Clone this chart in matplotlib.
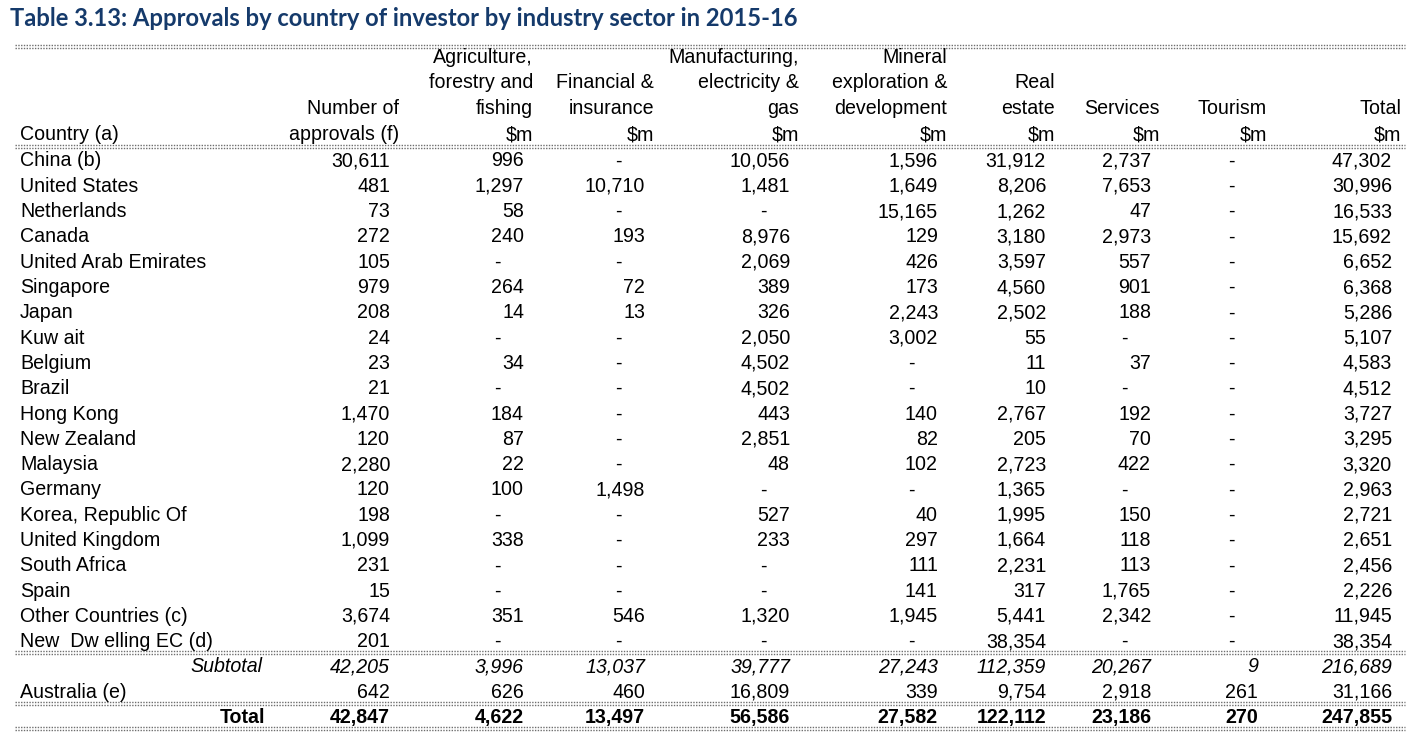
import matplotlib.pyplot as plt

# table content
countries = ["China (b)", "United States", "Netherlands", "Canada",
             "United Arab Emirates", "Singapore", "Japan", "Kuw ait",
             "Belgium", "Brazil", "Hong Kong", "New Zealand", "Malaysia",
             "Germany", "Korea, Republic Of", "United Kingdom",
             "South Africa", "Spain", "Other Countries (c)",
             "New  Dw elling EC (d)"]

approvals = [30611, 481, 73, 272, 105, 979, 208, 24, 23, 21, 1470, 120,
             2280, 120, 198, 1099, 231, 15, 3674, 201]
agriculture = [996, 1297, 58, 240, None, 264, 14, None, 34, None, 184, 87,
               22, 100, None, 338, None, None, 351, None]
financial = [None, 10710, None, 193, None, 72, 13, None, None, None, None,
             None, None, 1498, None, None, None, None, 546, None]
manufacturing = [10056, 1481, None, 8976, 2069, 389, 326, 2050, 4502, 4502,
                 443, 2851, 48, None, 527, 233, None, None, 1320, None]
mineral = [1596, 1649, 15165, 129, 426, 173, 2243, 3002, None, None, 140,
           82, 102, None, 40, 297, 111, 141, 1945, None]
real_estate = [31912, 8206, 1262, 3180, 3597, 4560, 2502, 55, 11, 10, 2767,
               205, 2723, 1365, 1995, 1664, 2231, 317, 5441, 38354]
services = [2737, 7653, 47, 2973, 557, 901, 188, None, 37, None, 192, 70,
            422, None, 150, 118, 113, 1765, 2342, None]
tourism = [None] * 20
total = [47302, 30996, 16533, 15692, 6652, 6368, 5286, 5107, 4583, 4512,
         3727, 3295, 3320, 2963, 2721, 2651, 2456, 2226, 11945, 38354]

subtotal = [42205, 3996, 13037, 39777, 27243, 112359, 20267, 9, 216689]
australia = [642, 626, 460, 16809, 339, 9754, 2918, 261, 31166]
grand_total = [42847, 4622, 13497, 56586, 27582, 122112, 23186, 270, 247855]

headers = [
    ["", "", "Number of", "approvals (f)"],
    ["Agriculture,", "forestry and", "fishing", "$m"],
    ["", "Financial &", "insurance", "$m"],
    ["Manufacturing,", "electricity &", "gas", "$m"],
    ["Mineral", "exploration &", "development", "$m"],
    ["", "Real", "estate", "$m"],
    ["", "", "Services", "$m"],
    ["", "", "Tourism", "$m"],
    ["", "", "Total", "$m"],
]

title = "Table 3.13: Approvals by country of investor by industry sector in 2015-16"

columns = [approvals, agriculture, financial, manufacturing, mineral,
           real_estate, services, tourism, total]

# layout (pixels)
W, H = 1420, 740
col_right = [390, 524, 645, 790, 938, 1046, 1151, 1258, 1392]
head_pad = 9
dash_off = 27
x_left = 20
x_line0, x_line1 = 15, 1405
head_base = [63, 88, 114, 140]
row0 = 166.5
row_h = 25.3

FONT = "Liberation Sans"
FS = 14.1
TITLE_COL = "#153A6B"
LINE_COL = "#6e6e6e"

fig = plt.figure(figsize=(W / 100, H / 100), dpi=100)
ax = fig.add_axes([0, 0, 1, 1])
ax.set_xlim(0, W)
ax.set_ylim(H, 0)
ax.axis("off")


def fmt(v):
    return "-" if v is None else f"{v:,}"


def put(x, y, s, ha="right", **kw):
    ax.text(x, y, s, ha=ha, va="baseline", fontfamily=FONT, fontsize=FS,
            color="black", **kw)


def put_val(ci, y, v, **kw):
    if v is None:
        put(col_right[ci] - dash_off, y, "-", ha="center", **kw)
    else:
        put(col_right[ci], y, fmt(v), **kw)


def dline(y):
    for dy in (-1.5, 1.5):
        ax.plot([x_line0, x_line1], [y + dy, y + dy], color=LINE_COL,
                lw=1.0, ls=(0, (1, 1)), solid_capstyle="butt")


ax.text(10, 18, title, ha="left", va="center", fontfamily="Lato",
        fontweight="bold", fontsize=17.1, color=TITLE_COL)

# header
for ci, lines in enumerate(headers):
    for li, s in enumerate(lines):
        if s:
            put(col_right[ci] + head_pad, head_base[li], s)
put(x_left, head_base[3], "Country (a)", ha="left")

# body rows
for ri, name in enumerate(countries):
    y = row0 + ri * row_h
    put(x_left, y, name, ha="left")
    for ci, col in enumerate(columns):
        put_val(ci, y, col[ri])

n = len(countries)
y_sub = row0 + n * row_h
y_aus = y_sub + row_h
y_tot = y_aus + row_h

put(262, y_sub, "Subtotal", style="italic")
for ci, v in enumerate(subtotal):
    put_val(ci, y_sub, v, style="italic")

put(x_left, y_aus, "Australia (e)", ha="left")
for ci, v in enumerate(australia):
    put_val(ci, y_aus, v)

put(265, y_tot, "Total", fontweight="bold")
for ci, v in enumerate(grand_total):
    put_val(ci, y_tot, v, fontweight="bold")

for y in (46, 146, 652, 703, 728):
    dline(y)

fig.savefig("out.png", dpi=100, facecolor="white")
